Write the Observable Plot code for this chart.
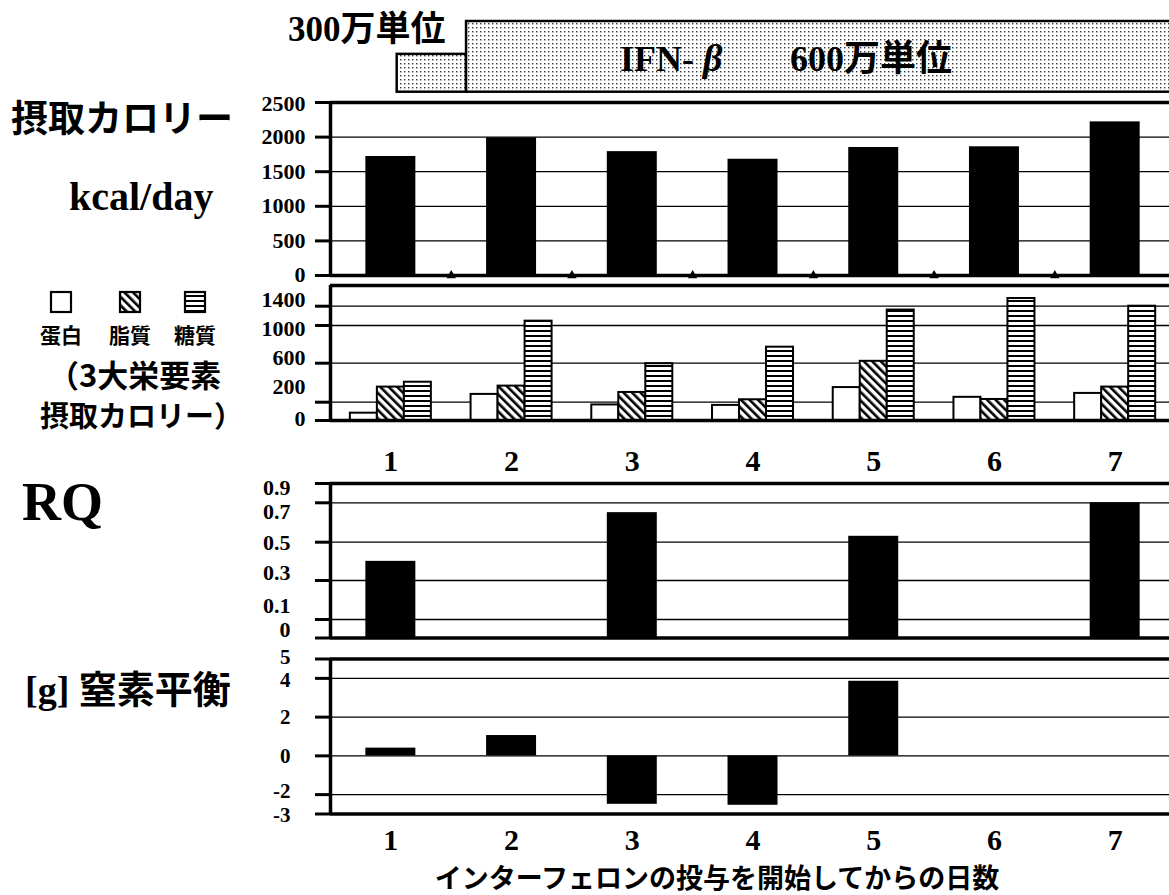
<!DOCTYPE html>
<html><head><meta charset="utf-8">
<script src="https://cdn.jsdelivr.net/npm/d3@7"></script>
<script src="https://cdn.jsdelivr.net/npm/@observablehq/plot@0.6"></script>
<style>
html,body{margin:0;padding:0;background:#fff;}
#chart{position:relative;width:1169px;height:895px;overflow:hidden;background:#fff;}
</style></head>
<body>
<svg width="0" height="0" style="position:absolute">
<defs>
<pattern id="hatch" patternUnits="userSpaceOnUse" width="6" height="6" patternTransform="rotate(-45)">
<rect width="6" height="6" fill="white"/><rect width="2.6" height="6" fill="black"/>
</pattern>
<pattern id="stripe" patternUnits="userSpaceOnUse" width="6" height="5">
<rect width="6" height="5" fill="white"/><rect y="0" width="6" height="2" fill="black"/>
</pattern>
<pattern id="dots" patternUnits="userSpaceOnUse" width="4" height="4">
<rect width="4" height="4" fill="white"/><rect width="1.4" height="1.4" fill="#333"/>
</pattern>
</defs>
</svg>
<div id="chart"></div>
<script>
// ---- data ----
const days = [1, 2, 3, 4, 5, 6, 7];
const kcal = [1720, 1990, 1790, 1680, 1850, 1860, 2220];
const protein = [80, 280, 170, 165, 350, 250, 290];
const fat = [355, 365, 300, 225, 620, 228, 355];
const carb = [405, 1090, 595, 770, 1320, 1560, 1400];
const rq = [0.40, null, 0.65, null, 0.53, null, 0.70];
const nitrogen = [0.4, 1.05, -2.5, -2.55, 3.85, null, null];
const kcalTicks = [0, 500, 1000, 1500, 2000, 2500];
const macroTicks = [0, 200, 600, 1000, 1400];
const macroTop = 1830;
const rqTicks = [0, 0.1, 0.3, 0.5, 0.7, 0.9];
const nTicks = [-3, -2, 0, 2, 4, 5];
const nutrients = ["蛋白", "脂質", "糖質"];
const doseStart = [1.0525, 1.627];
const doseEnd = [1.627, 7.7];
const doseLevel = [0.535, 1];

// ---- layout ----
const W = 1169;
const xDomain = [0.5, 7.45];
const SERIF = "'Liberation Serif','Times New Roman',serif";
const GOTHIC = "'Noto Sans CJK JP','Noto Sans',sans-serif";
const fills = ["white", "url(#hatch)", "url(#stripe)"];
const root = document.getElementById("chart");

// the printed axes are not evenly spaced: warp them piecewise as in the original
const macroWarp = d3.scaleLinear().domain([...macroTicks, macroTop]).range([0, 18.3, 57.3, 95, 114.3, 135]);
const rqWarp = d3.scaleLinear().domain(rqTicks).range([0, 18.5, 57.5, 95.8, 135.2, 154.5]);

function place(svg, top) {
  svg.style.position = "absolute";
  svg.style.left = "0px";
  svg.style.top = top + "px";
  root.appendChild(svg);
}
function base(o) {
  return Plot.plot({
    width: W, marginLeft: 330, marginRight: 0,
    x: {domain: xDomain, axis: null},
    style: {fontFamily: SERIF, fontWeight: "bold", fontSize: "22px", color: "black", background: "transparent"},
    ...o
  });
}
// y axis: tick marks through the scale, labels nudged to where the original printed them
function yAxis(ticks, pad, nudge, fmt = d => String(d), size = 22) {
  return [
    Plot.axisY(ticks, {tickSize: 15, strokeWidth: 3, fill: "none", label: null}),
    ...ticks.map((t, i) => Plot.text([t], {x: xDomain[0], y: d => d, text: fmt, dx: -(15 + pad), dy: nudge[i],
      textAnchor: "end", fontSize: size, fontWeight: "bold", fill: "black"}))
  ];
}
const bw = 0.207, sw = 0.2237;
const rows = (arr) => days.map((d, i) => ({day: d, v: arr[i]})).filter(d => d.v != null);
const bounds = days.slice(0, -1).map(d => d + 0.5);
const fmt = d => String(d);

// banner (dose)
const doseRows = doseStart.map((s, i) => ({x1: s, x2: doseEnd[i], h: doseLevel[i]}));
place(base({
  height: 82, marginTop: 6, marginBottom: 5.3,
  y: {domain: [0, 1], axis: null},
  marks: [Plot.rect(doseRows, {x1: "x1", x2: "x2", y1: 0, y2: "h", fill: "url(#dots)", stroke: "black", strokeWidth: 2.5})]
}), 15);

// panel 1: intake kcal
place(base({
  height: 200, marginTop: 12, marginBottom: 15,
  y: {domain: [0, 2500], axis: null},
  marks: [
    Plot.ruleY(kcalTicks.slice(1, -1), {stroke: "black", strokeWidth: 1.3}),
    Plot.rect(rows(kcal), {x1: d => d.day - bw, x2: d => d.day + bw, y1: 0, y2: "v", fill: "black"}),
    Plot.dot(bounds, {x: d => d, y: 0, symbol: "triangle", r: 3.5, fill: "black", stroke: null}),
    Plot.ruleY([0, 2500], {stroke: "black", strokeWidth: 3.5}),
    Plot.ruleX([0.5], {stroke: "black", strokeWidth: 3.5}),
    ...yAxis(kcalTicks, 10, [-1, 0, 0, 0, 0, 1])
  ]
}), 90);

// panel 2: macro nutrients
place(base({
  height: 200, marginTop: 5, marginBottom: 60,
  y: {transform: macroWarp, domain: [0, 135], axis: null},
  marks: [
    Plot.ruleY(macroTicks.slice(1), {stroke: "black", strokeWidth: 1.3}),
    ...[protein, fat, carb].map((arr, j) =>
      Plot.rect(rows(arr), {x1: d => d.day + (j - 1.5) * sw, x2: d => d.day + (j - 0.5) * sw, y1: 0, y2: "v",
        fill: fills[j], stroke: "black", strokeWidth: 2})),
    Plot.ruleY([0, macroTop], {stroke: "black", strokeWidth: 3.5}),
    Plot.ruleX([0.5], {stroke: "black", strokeWidth: 3.5}),
    ...yAxis(macroTicks, 10, [-2, -15, -5, 3, -6]),
    Plot.axisX(days, {tickSize: 0, tickPadding: 29, fontSize: 30, label: null, tickFormat: fmt})
  ]
}), 280);

// panel 3: RQ
place(base({
  height: 178, marginTop: 13, marginBottom: 10.5,
  y: {transform: rqWarp, domain: [0, 154.5], axis: null},
  marks: [
    Plot.ruleY(rqTicks.slice(1, -1), {stroke: "black", strokeWidth: 1.3}),
    Plot.rect(rows(rq), {x1: d => d.day - bw, x2: d => d.day + bw, y1: 0, y2: "v", fill: "black"}),
    Plot.ruleY([0, 0.9], {stroke: "black", strokeWidth: 3.5}),
    Plot.ruleX([0.5], {stroke: "black", strokeWidth: 3.5}),
    ...yAxis(rqTicks, 25, [-8.5, -14, -7.5, 0.8, 9, 4.5], d => d === 0 ? "0" : d3.format(".1f")(d))
  ]
}), 470);

// panel 4: nitrogen balance
place(base({
  height: 255, marginTop: 18.5, marginBottom: 81.5,
  y: {domain: [-3, 5], axis: null},
  marks: [
    Plot.ruleY(nTicks.slice(1, -1), {stroke: "black", strokeWidth: 1.3}),
    Plot.rect(rows(nitrogen), {x1: d => d.day - bw, x2: d => d.day + bw, y1: 0, y2: "v", fill: "black"}),
    Plot.ruleY([-3, 5], {stroke: "black", strokeWidth: 3.5}),
    Plot.ruleX([0.5], {stroke: "black", strokeWidth: 3.5}),
    ...yAxis(nTicks, 25, [1.5, -3.5, 0, 0, 2, -2], fmt, 21),
    Plot.axisX(days, {tickSize: 0, tickPadding: 15, fontSize: 30, label: null, tickFormat: fmt})
  ]
}), 640);

// ---- annotations ----
const ann = d3.select(root).append("svg")
  .attr("width", W).attr("height", 895)
  .style("position", "absolute").style("left", "0px").style("top", "0px")
  .attr("font-weight", "bold").attr("fill", "black");

function txt(x, y, size, parts) {
  const t = ann.append("text").attr("x", x).attr("y", y).attr("font-size", size);
  for (const [s, fam, extra] of parts) {
    const ts = t.append("tspan").attr("font-family", fam).text(s);
    if (extra) for (const k in extra) ts.attr(k, extra[k]);
  }
  return t;
}
txt(288, 41, 35, [["300", SERIF], ["万単位", GOTHIC]]);
txt(620, 71, 36, [["IFN-", SERIF]]);
txt(703, 71, 38, [["β", SERIF, {"font-style": "italic"}]]);
txt(790, 71, 36, [["600", SERIF], ["万単位", GOTHIC]]);

txt(11, 132, 37, [["摂取カロリー", GOTHIC]]);
txt(69, 210, 40, [["kcal/day", SERIF]]);
txt(48, 387, 31, [["（3大栄要素", GOTHIC]]);
txt(40, 427, 29, [["摂取カロリー）", GOTHIC]]);
txt(22, 520, 54, [["RQ", SERIF]]);
txt(25, 703, 38, [["[g] ", SERIF], ["窒素平衡", GOTHIC]]);
ann.append("text").attr("x", 717).attr("y", 888).attr("font-size", 27)
  .attr("font-family", GOTHIC).attr("text-anchor", "middle").text("インターフェロンの投与を開始してからの日数");

// legend
const legX = [61, 130, 195];
nutrients.forEach((n, j) => {
  ann.append("rect").attr("x", legX[j] - 10).attr("y", 292).attr("width", 20).attr("height", 20)
    .attr("fill", fills[j]).attr("stroke", "black").attr("stroke-width", 2.2);
  ann.append("text").attr("x", legX[j]).attr("y", 343).attr("font-size", 21)
    .attr("font-family", GOTHIC).attr("text-anchor", "middle").text(n);
});
</script>
</body></html>
